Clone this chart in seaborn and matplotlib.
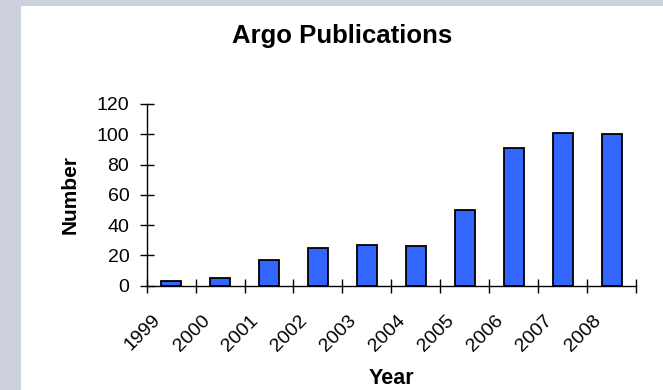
import matplotlib
matplotlib.use("Agg")
import matplotlib.pyplot as plt
from matplotlib.patches import Rectangle
from matplotlib.transforms import ScaledTranslation
import seaborn as sns
import numpy as np

years = ["1999", "2000", "2001", "2002", "2003", "2004", "2005", "2006", "2007", "2008"]
counts = [3, 5, 17, 25, 27, 26, 50, 91, 101, 100]
y_ticks = [0, 20, 40, 60, 80, 100, 120]

sns.set_theme(style="white")
plt.rcParams['font.family'] = ['Liberation Sans', 'DejaVu Sans']

fig = plt.figure(figsize=(6.63, 3.9), dpi=100)
fig.patch.set_facecolor("#CDD1DD")
bg = Rectangle((21 / 663, 0), 1 - 21 / 663, 1 - 6 / 390,
               transform=fig.transFigure, facecolor="white",
               edgecolor="none", zorder=-10)
fig.add_artist(bg)

ax = fig.add_axes([146.7 / 663, 1 - 285.7 / 390, (636 - 146.7) / 663, (285.7 - 104) / 390])
ax.set_facecolor("none")
ax.set_zorder(5)

sns.barplot(x=years, y=counts, color="#3366FF", saturation=1, edgecolor="black",
            linewidth=1.3, width=0.41, ax=ax)

ax.set_xlim(-0.5, len(years) - 0.5)
ax.set_ylim(0, 120)
ax.set_yticks(y_ticks)
ax.set_yticklabels([str(v) for v in y_ticks])

# boundary ticks (major, unlabeled) and centered labels (minor)
ax.set_xticks(np.arange(-0.5, len(years), 1.0))
ax.set_xticklabels([])
ax.set_xticks(np.arange(len(years)), minor=True)
ax.set_xticklabels(years, minor=True, rotation=45, ha="right", va="center",
                   rotation_mode="anchor")

ax.tick_params(axis="x", which="major", direction="inout", length=10, width=1, color="black", bottom=True)
ax.tick_params(axis="x", which="minor", length=0, pad=23, labelsize=14, labelcolor="black", bottom=True)
ax.tick_params(axis="y", which="major", direction="inout", length=10, width=1, color="black",
               pad=7.5, labelsize=14, labelcolor="black", left=True)

shift = ScaledTranslation(-13 / 100, 0, fig.dpi_scale_trans)
for lab in ax.get_xticklabels(minor=True):
    lab.set_transform(lab.get_transform() + shift)

for s in ["top", "right"]:
    ax.spines[s].set_visible(False)
for s in ["left", "bottom"]:
    ax.spines[s].set_color("black")
    ax.spines[s].set_linewidth(1)

ax.set_ylabel("Number", fontsize=15, fontweight="bold", color="black", labelpad=12)
ax.set_xlabel("Year", fontsize=15.5, fontweight="bold", color="black", labelpad=10)

fig.text(342 / 663, 1 - 35.5 / 390, "Argo Publications", ha="center", va="center",
         fontsize=18.5, fontweight="bold", color="black")

fig.savefig("out.png", dpi=100, facecolor=fig.get_facecolor())
